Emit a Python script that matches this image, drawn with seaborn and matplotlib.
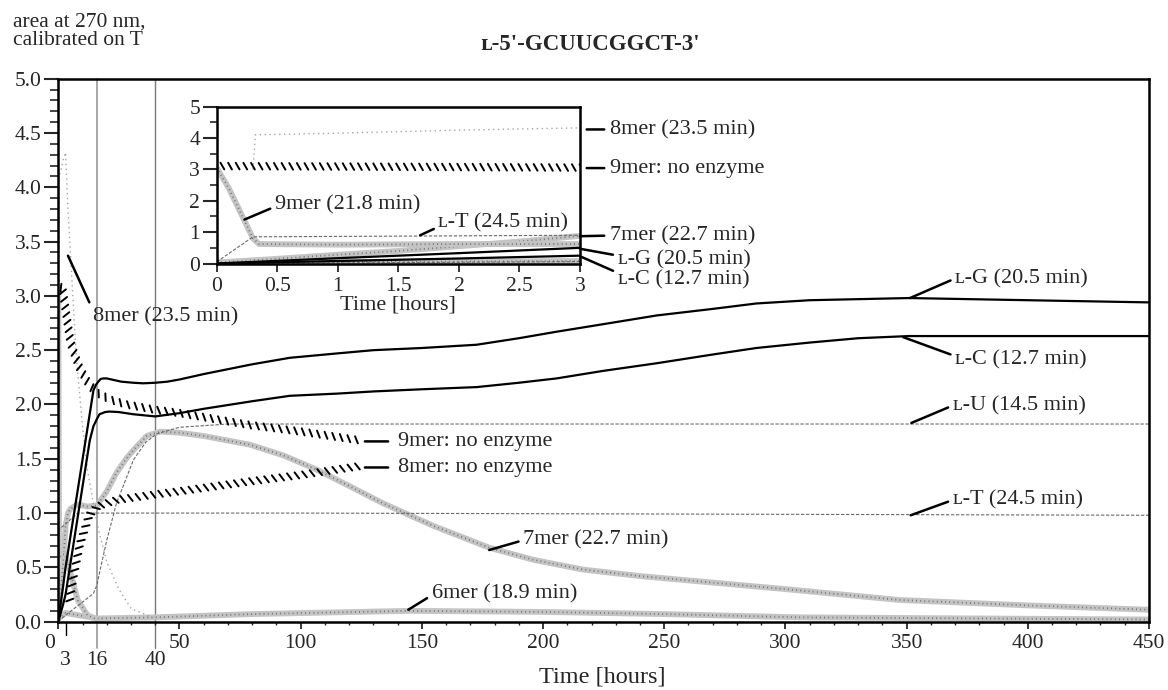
import numpy as np
import seaborn as sns
import matplotlib.pyplot as plt
import matplotlib.patheffects as pe
from matplotlib.ticker import MultipleLocator

sns.set_style('ticks')
plt.rcParams['font.family'] = ['Liberation Serif', 'DejaVu Serif']

# ---- values (time in hours) ----
t_LG = [0, 1, 2, 3, 14.5, 15.5, 16.5, 17.5, 18.6, 20, 22, 26, 31, 35, 40, 45, 50, 60, 80, 95.6, 115, 130, 150, 172.6, 190, 205.6, 225, 247, 270, 288, 310, 351, 400, 450]
y_LG = [0, 0.17, 0.33, 0.5, 2.13, 2.18, 2.21, 2.235, 2.24, 2.24, 2.23, 2.21, 2.2, 2.195, 2.2, 2.21, 2.23, 2.28, 2.37, 2.43, 2.47, 2.5, 2.52, 2.55, 2.61, 2.67, 2.74, 2.82, 2.88, 2.93, 2.96, 2.98, 2.96, 2.94]

t_LC = [0, 1, 2, 3, 13, 14.5, 15.8, 17, 19.3, 21, 25, 31, 40, 50, 60, 80, 95.6, 115, 130, 150, 172.6, 190, 205.6, 225, 247, 270, 288, 310, 330, 351, 400, 450]
y_LC = [0, 0.08, 0.16, 0.25, 1.67, 1.8, 1.86, 1.91, 1.93, 1.935, 1.93, 1.91, 1.89, 1.92, 1.96, 2.03, 2.08, 2.1, 2.12, 2.14, 2.16, 2.2, 2.24, 2.31, 2.38, 2.46, 2.52, 2.57, 2.61, 2.63, 2.63, 2.63]

t_LU = [0, 3, 10, 14.5, 16, 17, 20, 24, 31, 36, 40.6, 50, 70, 450]
y_LU = [0, 0.06, 0.18, 0.26, 0.34, 0.45, 0.75, 1.09, 1.49, 1.65, 1.73, 1.79, 1.82, 1.82]

t_LT = [0, 0.3, 3, 8, 16, 100, 450]
y_LT = [0.05, 0.85, 0.9, 1.0, 1.0, 1.0, 0.98]

t_7mer = [0, 0.5, 1, 1.5, 2, 2.5, 3, 4, 5, 8, 12, 16, 20, 24, 28, 31, 36.5, 42, 50, 60, 79, 93, 106.6, 120, 134, 155, 178, 196, 216.5, 240, 265, 300, 347, 400, 450]
y_7mer = [0.03, 0.15, 0.28, 0.4, 0.55, 0.7, 0.88, 1.0, 1.04, 1.08, 1.06, 1.07, 1.2, 1.37, 1.5, 1.58, 1.71, 1.75, 1.74, 1.71, 1.63, 1.53, 1.40, 1.25, 1.09, 0.88, 0.68, 0.57, 0.48, 0.42, 0.37, 0.3, 0.2, 0.15, 0.11]

t_9mer = [0, 0.1, 0.2, 0.3, 0.35, 1, 2, 3, 5, 8, 12, 16]
y_9mer = [3.05, 2.4, 1.6, 0.8, 0.62, 0.6, 0.62, 0.62, 0.45, 0.2, 0.06, 0.02]

t_8mer = [0.3, 0.32, 1, 2, 3, 4, 5, 6, 7, 8, 10, 12, 16, 20, 25, 30, 40]
y_8mer = [3.0, 4.1, 4.15, 4.25, 4.32, 3.8, 3.4, 3.0, 2.6, 2.3, 1.8, 1.4, 0.9, 0.55, 0.3, 0.12, 0.03]

t_6mer = [0, 3, 16, 40, 80, 145, 200, 250, 306, 450]
y_6mer = [0.03, 0.08, 0.03, 0.04, 0.07, 0.1, 0.09, 0.07, 0.04, 0.02]

t_9mer_ne = [0, 3, 4, 6, 7, 10, 13, 16, 22, 28, 40, 50, 79, 100, 124]
y_9mer_ne = [3.1, 3.05, 2.9, 2.6, 2.5, 2.32, 2.2, 2.11, 2.04, 2.0, 1.95, 1.92, 1.81, 1.75, 1.67]

t_8mer_ne = [3, 5, 7.6, 11.7, 15.8, 24, 40, 50, 79, 100, 124]
y_8mer_ne = [0.12, 0.4, 0.69, 0.97, 1.06, 1.12, 1.17, 1.2, 1.29, 1.35, 1.43]

marker_times = [3, 16, 40]

series = [
    (t_6mer, y_6mer, 'stipple'),
    (t_7mer, y_7mer, 'stipple'),
    (t_9mer, y_9mer, 'stipple'),
    (t_LU, y_LU, 'dash'),
    (t_LT, y_LT, 'dash'),
    (t_8mer, y_8mer, 'light'),
    (t_8mer_ne, y_8mer_ne, 'hatch'),
    (t_9mer_ne, y_9mer_ne, 'hatch'),
    (t_LC, y_LC, 'solid'),
    (t_LG, y_LG, 'solid'),
]


def draw(ax, t, y, kind):
    common = dict(x=t, y=y, ax=ax, estimator=None, sort=False, legend=False)
    if kind == 'solid':
        sns.lineplot(**common, color='black', lw=1.6)
    elif kind == 'hatch':
        sns.lineplot(**common, color='black', lw=1.4,
                     path_effects=[pe.TickedStroke(offset=(0, 2.5), spacing=5.5, angle=-60,
                                                   length=1.0, linewidth=1.4)])
    elif kind == 'stipple':
        sns.lineplot(**common, color='#c4c4c4', lw=4.2, solid_capstyle='butt')
        sns.lineplot(**common, color='#6e6e6e', lw=1.3, linestyle=(0, (0.5, 1.8)))
    elif kind == 'dash':
        sns.lineplot(**common, color='#6a6a6a', lw=0.8, linestyle=(0, (3, 1.5)))
    else:
        sns.lineplot(**common, color='#a5a5a5', lw=1.0, linestyle=(0, (1, 2.5)))


def note(ax, text, tip, at, rel=(0, 0.5), shrink=1, size=16):
    ax.annotate(text, xy=tip, xytext=at, ha='left', va='center', fontsize=size,
                annotation_clip=False,
                arrowprops=dict(arrowstyle='-', lw=1.8, color='black',
                                shrinkA=shrink, shrinkB=0, relpos=rel))


fig = plt.figure(figsize=(11.68, 6.90), dpi=100)
ax = fig.add_axes([0.0499, 0.0990, 0.9338, 0.7870])

for t, y, kind in series:
    draw(ax, t, y, kind)

# guide lines at 16 h and 40 h, tick at 3 h
ax.axvline(marker_times[1], ymin=-0.048, ymax=1, color='#a0a0a0', lw=1.3, clip_on=False, zorder=0)
ax.axvline(marker_times[2], ymin=-0.048, ymax=1, color='#7a7a7a', lw=1.0, clip_on=False, zorder=0)
ax.axvline(marker_times[0], ymin=-0.025, ymax=0, color='black', lw=1.0, clip_on=False)

ax.set_xlim(0, 450)
ax.set_ylim(0, 5)
ax.set_xticks(range(0, 451, 50))
ax.set_xticklabels([''] + [str(v) for v in range(50, 451, 50)])
ax.xaxis.set_minor_locator(MultipleLocator(10))
yt = np.arange(0, 5.01, 0.5)
ax.set_yticks(yt)
ax.set_yticklabels([f'{v:.1f}' for v in yt])
ax.yaxis.set_minor_locator(MultipleLocator(0.1))
ax.tick_params(axis='y', which='major', length=10, width=1.5, pad=2, labelsize=15.5)
ax.tick_params(axis='y', which='minor', length=6, width=1.2)
ax.tick_params(axis='x', which='major', length=5, width=1.3, pad=4, labelsize=15.5)
ax.tick_params(axis='x', which='minor', length=2.5, width=1.0)
for s in ax.spines.values():
    s.set_linewidth(1.8)
    s.set_color('black')
ax.set_ylabel('')
ax.set_xlabel('Time [hours]', fontsize=17.5)
ax.xaxis.set_label_coords(0.499, -0.083)

xf = ax.get_xaxis_transform()
ax.text(-3.4, -0.04, '0', transform=xf, ha='center', va='center', fontsize=15.5)
for m in marker_times:
    ax.text(m, -0.071, str(m), transform=xf, ha='center', va='center', fontsize=15.5)

note(ax, '8mer (23.5 min)', (4, 3.37), (14.4, 2.81), rel=(0, 0.8))
note(ax, 'ʟ-G (20.5 min)', (351.4, 2.98), (370, 3.16))
note(ax, 'ʟ-C (12.7 min)', (348.6, 2.62), (370, 2.41), rel=(0, 0.7))
note(ax, 'ʟ-U (14.5 min)', (352, 1.83), (369, 1.99))
note(ax, 'ʟ-T (24.5 min)', (351.7, 0.98), (369, 1.12))
note(ax, '7mer (22.7 min)', (177.8, 0.66), (191.8, 0.75))
note(ax, '6mer (18.9 min)', (144.4, 0.11), (154, 0.26), rel=(0, 0.4))
note(ax, '9mer: no enzyme', (126.5, 1.66), (140.3, 1.66), shrink=5)
note(ax, '8mer: no enzyme', (126.5, 1.42), (140.3, 1.42), shrink=5)

# ---- inset: first three hours ----
ins = fig.add_axes([0.1855, 0.6181, 0.3111, 0.2275])
ins.set_facecolor('white')
for t, y, kind in series:
    draw(ins, t, y, kind)
ins.set_xlim(0, 3)
ins.set_ylim(0, 5)
ins.set_xticks(np.arange(0, 3.01, 0.5))
ins.set_xticklabels(['0', '0.5', '1', '1.5', '2', '2.5', '3'])
ins.set_yticks(range(0, 6))
ins.yaxis.set_minor_locator(MultipleLocator(0.5))
ins.tick_params(axis='y', which='major', length=10, width=1.5, pad=2, labelsize=15.5)
ins.tick_params(axis='y', which='minor', length=5, width=1.2)
ins.tick_params(axis='x', which='major', length=5.5, width=1.3, pad=4, labelsize=15.5)
for s in ins.spines.values():
    s.set_linewidth(1.8)
    s.set_color('black')
ins.set_ylabel('')
ins.set_xlabel('Time [hours]', fontsize=16, labelpad=0)

note(ins, '8mer (23.5 min)', (3.055, 4.27), (3.25, 4.27), shrink=2)
note(ins, '9mer: no enzyme', (3.055, 3.04), (3.25, 3.04), shrink=2)
note(ins, '7mer (22.7 min)', (3.0, 0.87), (3.25, 0.89), shrink=2)
note(ins, 'ʟ-G (20.5 min)', (3.0, 0.47), (3.31, 0.13), rel=(0, 0.7))
note(ins, 'ʟ-C (12.7 min)', (3.0, 0.23), (3.31, -0.51), rel=(0, 0.85))
note(ins, '9mer (21.8 min)', (0.23, 1.4), (0.48, 1.87), rel=(0, 0.4))
note(ins, 'ʟ-T (24.5 min)', (1.68, 0.9), (1.83, 1.29), rel=(0, 0.3))

fig.text(0.011, 0.968, 'area at 270 nm,', ha='left', va='center', fontsize=15.5)
fig.text(0.011, 0.942, 'calibrated on T', ha='left', va='center', fontsize=15.5)
fig.text(0.505, 0.935, "ʟ-5'-GCUUCGGCT-3'", ha='center', va='center', fontsize=16.5, fontweight='bold')

fig.savefig('out.png', dpi=100, facecolor='white')
